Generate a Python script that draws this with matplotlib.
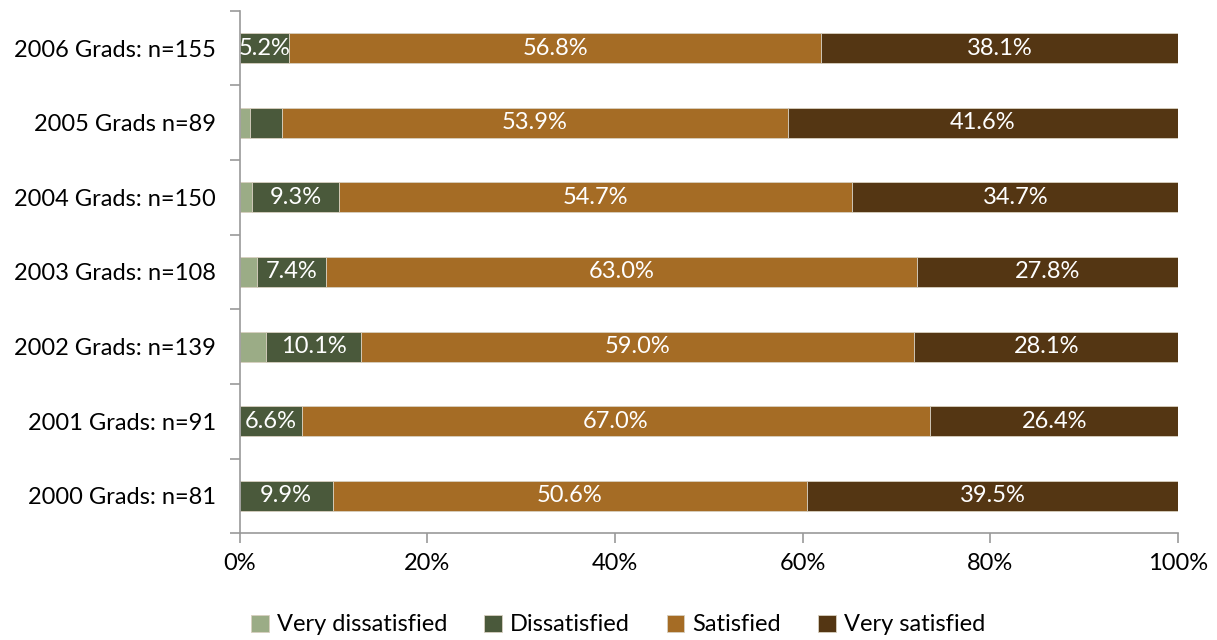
import numpy as np
import matplotlib.pyplot as plt
from matplotlib.ticker import FixedLocator, PercentFormatter

plt.rcParams['font.family'] = ['Lato', 'DejaVu Sans']

# survey groups, bottom to top
groups = ['2000 Grads: n=81', '2001 Grads: n=91', '2002 Grads: n=139',
          '2003 Grads: n=108', '2004 Grads: n=150', '2005 Grads n=89',
          '2006 Grads: n=155']
very_dissatisfied = [0.0, 0.0, 2.8, 1.8, 1.3, 1.1, 0.0]
dissatisfied = [9.9, 6.6, 10.1, 7.4, 9.3, 3.4, 5.2]
satisfied = [50.6, 67.0, 59.0, 63.0, 54.7, 53.9, 56.8]
very_satisfied = [39.5, 26.4, 28.1, 27.8, 34.7, 41.6, 38.1]

series = [('Very dissatisfied', very_dissatisfied, '#9bac86'),
          ('Dissatisfied', dissatisfied, '#4a593b'),
          ('Satisfied', satisfied, '#a56c25'),
          ('Very satisfied', very_satisfied, '#543613')]

FS = 17

fig = plt.figure(figsize=(12.17, 6.4), dpi=100)
ax = fig.add_axes([0.197, 0.167, 0.771, 0.816])

y = np.arange(len(groups))
left = np.zeros(len(groups))
for name, vals, col in series:
    vals = np.array(vals)
    bars = ax.barh(y, vals, left=left, height=0.4, color=col, label=name,
                   edgecolor='#d8d0c0', linewidth=0.6)
    for b, v in zip(bars, vals):
        if v >= 5:
            ax.text(b.get_x() + b.get_width() / 2, b.get_y() + b.get_height() / 2,
                    f'{v:.1f}%', ha='center', va='center', color='white', fontsize=FS)
    left += vals

ax.set_xlim(0, 100)
ax.set_ylim(-0.5, len(groups) - 0.5)
ax.set_xticks(np.arange(0, 101, 20))
ax.xaxis.set_major_formatter(PercentFormatter(decimals=0))
ax.set_yticks(y)
ax.set_yticklabels(groups)
ax.yaxis.set_minor_locator(FixedLocator(np.arange(-0.5, len(groups), 1)))
ax.tick_params(axis='y', which='major', length=0, pad=17, labelsize=FS)
ax.tick_params(axis='y', which='minor', length=7, color='#999999', width=1.2)
ax.tick_params(axis='x', length=7, color='#999999', width=1.2, labelsize=FS, pad=7)

for s in ['top', 'right']:
    ax.spines[s].set_visible(False)
for s in ['left', 'bottom']:
    ax.spines[s].set_color('#999999')
    ax.spines[s].set_linewidth(1.2)

fig.legend(loc='lower center', bbox_to_anchor=(0.508, -0.026), ncol=4, frameon=False,
           fontsize=FS, handlelength=0.75, handleheight=0.75, handletextpad=0.35,
           columnspacing=1.55)

fig.savefig('out.png', dpi=100)
